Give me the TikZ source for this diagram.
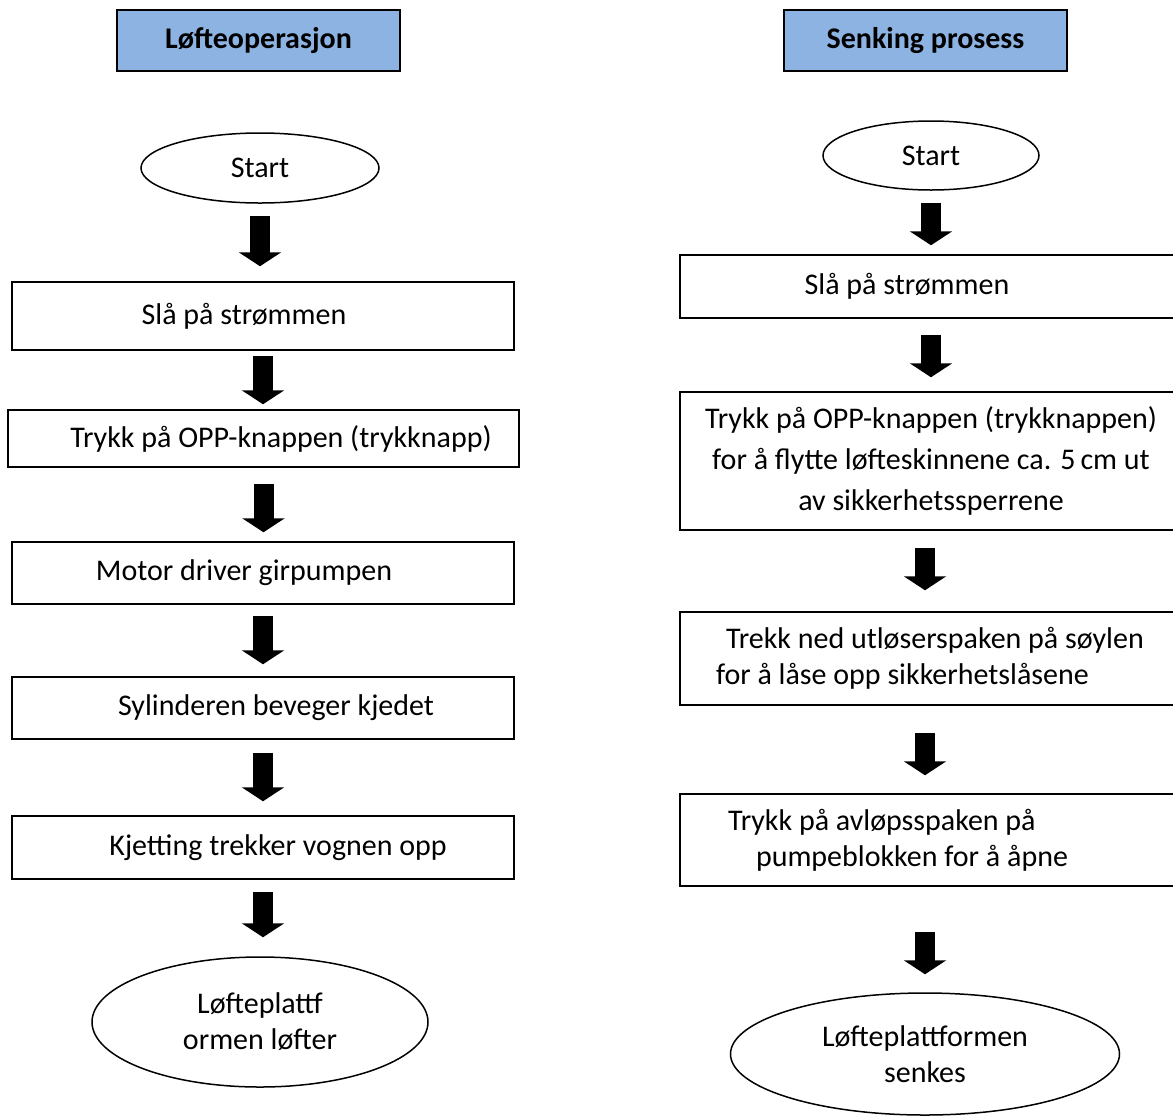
\documentclass[tikz,border=0pt]{standalone}
\usepackage{fontspec}
\setmainfont{Carlito}
\usetikzlibrary{positioning, arrows.meta, shapes.geometric}
\definecolor{headblue}{RGB}{141,179,226}

\begin{document}
\begin{tikzpicture}[x=0.5pt, y=-0.5pt,
  font=\fontsize{15}{18}\selectfont,
  head/.style={draw, line width=1pt, fill=headblue, minimum width=141.5pt, minimum height=30.5pt, font=\fontsize{15}{18}\selectfont\bfseries},
  box/.style={draw, line width=0.75pt, minimum width=251pt, align=center},
  oval/.style={draw, ellipse, line width=0.75pt, inner sep=0pt, align=center},
  blockarrow/.style={-{Triangle[width=21pt,length=7pt]}, line width=10pt}]
\clip (0,0) rectangle (1173,1115);

% headings
\node [head] (headL) at (258.5,40.5) {Løfteoperasjon\hspace{14pt}};
\node [head] (headR) at (925.5,40.5) {Senking prosess\hspace{10pt}};

% lifting
\node [oval, minimum width=119pt, minimum height=35pt] (startL) at (260,168) {Start};
\node [box, minimum height=34pt] (slaL) at (263,316) {Slå på strømmen\hspace{19pt}};
\node [box, minimum width=255.5pt, minimum height=28.5pt] (oppL) at (263.5,438.5) {\hspace{17.5pt}Trykk på OPP-knappen (trykknapp)};
\node [box, minimum height=31pt] (motor) at (263,573) {Motor driver girpumpen\hspace{19pt}};
\node [box, minimum height=31pt] (sylinder) at (263,708) {\hspace{13pt}Sylinderen beveger kjedet};
\node [box, minimum height=31.5pt] (kjetting) at (263,847.5) {\hspace{15pt}Kjetting trekker vognen opp};
\node [oval, minimum width=168pt, minimum height=65pt] (endL) at (260,1022) {Løfteplattf\\ormen løfter};

\draw [blockarrow, shorten <=6pt, shorten >=7.5pt] (startL) -- (startL |- slaL.north);
\draw [blockarrow, shorten <=2.5pt, shorten >=2.5pt] (slaL) -- (slaL |- oppL.north);
\draw [blockarrow, shorten <=8pt, shorten >=4.5pt] (oppL) -- (oppL |- motor.north);
\draw [blockarrow, shorten <=5.5pt, shorten >=6pt] (motor) -- (motor |- sylinder.north);
\draw [blockarrow, shorten <=6.5pt, shorten >=7pt] (sylinder) -- (sylinder |- kjetting.north);
\draw [blockarrow, shorten <=6pt, shorten >=9.5pt] (kjetting) -- (kjetting |- endL.north);

% lowering
\node [oval, minimum width=108pt, minimum height=34.5pt] (startR) at (931,155.5) {Start};
\node [box, minimum height=31.5pt] (slaR) at (931,286.5) {Slå på strømmen\hspace{24pt}};
\node [box, minimum height=69pt, font=\fontsize{15}{20.5}\selectfont] (oppR) at (931,461) {Trykk på OPP-knappen (trykknappen)\\for å flytte løfteskinnene ca. 5\,cm ut\\av sikkerhetssperrene};
\node [box, minimum height=46.5pt, text width=215pt, inner xsep=18pt, align=flush left] (utloser) at (931,658.5) {\hspace*{5pt}Trekk ned utløserspaken på søylen\\for å låse opp sikkerhetslåsene};
\node [box, minimum height=46pt, text width=215pt, inner xsep=18pt, align=flush left] (avlop) at (931,840) {\hspace*{6pt}Trykk på avløpsspaken på\\\hspace*{20pt}pumpeblokken for å åpne};
\node [oval, minimum width=194.5pt, minimum height=61pt] (endR) at (925,1054) {Løfteplattformen\\senkes};

\draw [blockarrow, shorten <=6pt, shorten >=4.5pt] (startR) -- (startR |- slaR.north);
\draw [blockarrow, shorten <=8pt, shorten >=7pt] (slaR) -- (slaR |- oppR.north);
\draw [blockarrow, shorten <=8.5pt, shorten >=10.5pt] ([xshift=-3pt]oppR.south) -- ([xshift=-3pt]oppR.south |- utloser.north);
\draw [blockarrow, shorten <=13.5pt, shorten >=9pt] ([xshift=-3pt]utloser.south) -- ([xshift=-3pt]utloser.south |- avlop.north);
\draw [blockarrow, shorten <=22.5pt, shorten >=9pt] ([xshift=-3pt]avlop.south) -- ([xshift=-3pt]avlop.south |- endR.north);
\end{tikzpicture}
\end{document}
